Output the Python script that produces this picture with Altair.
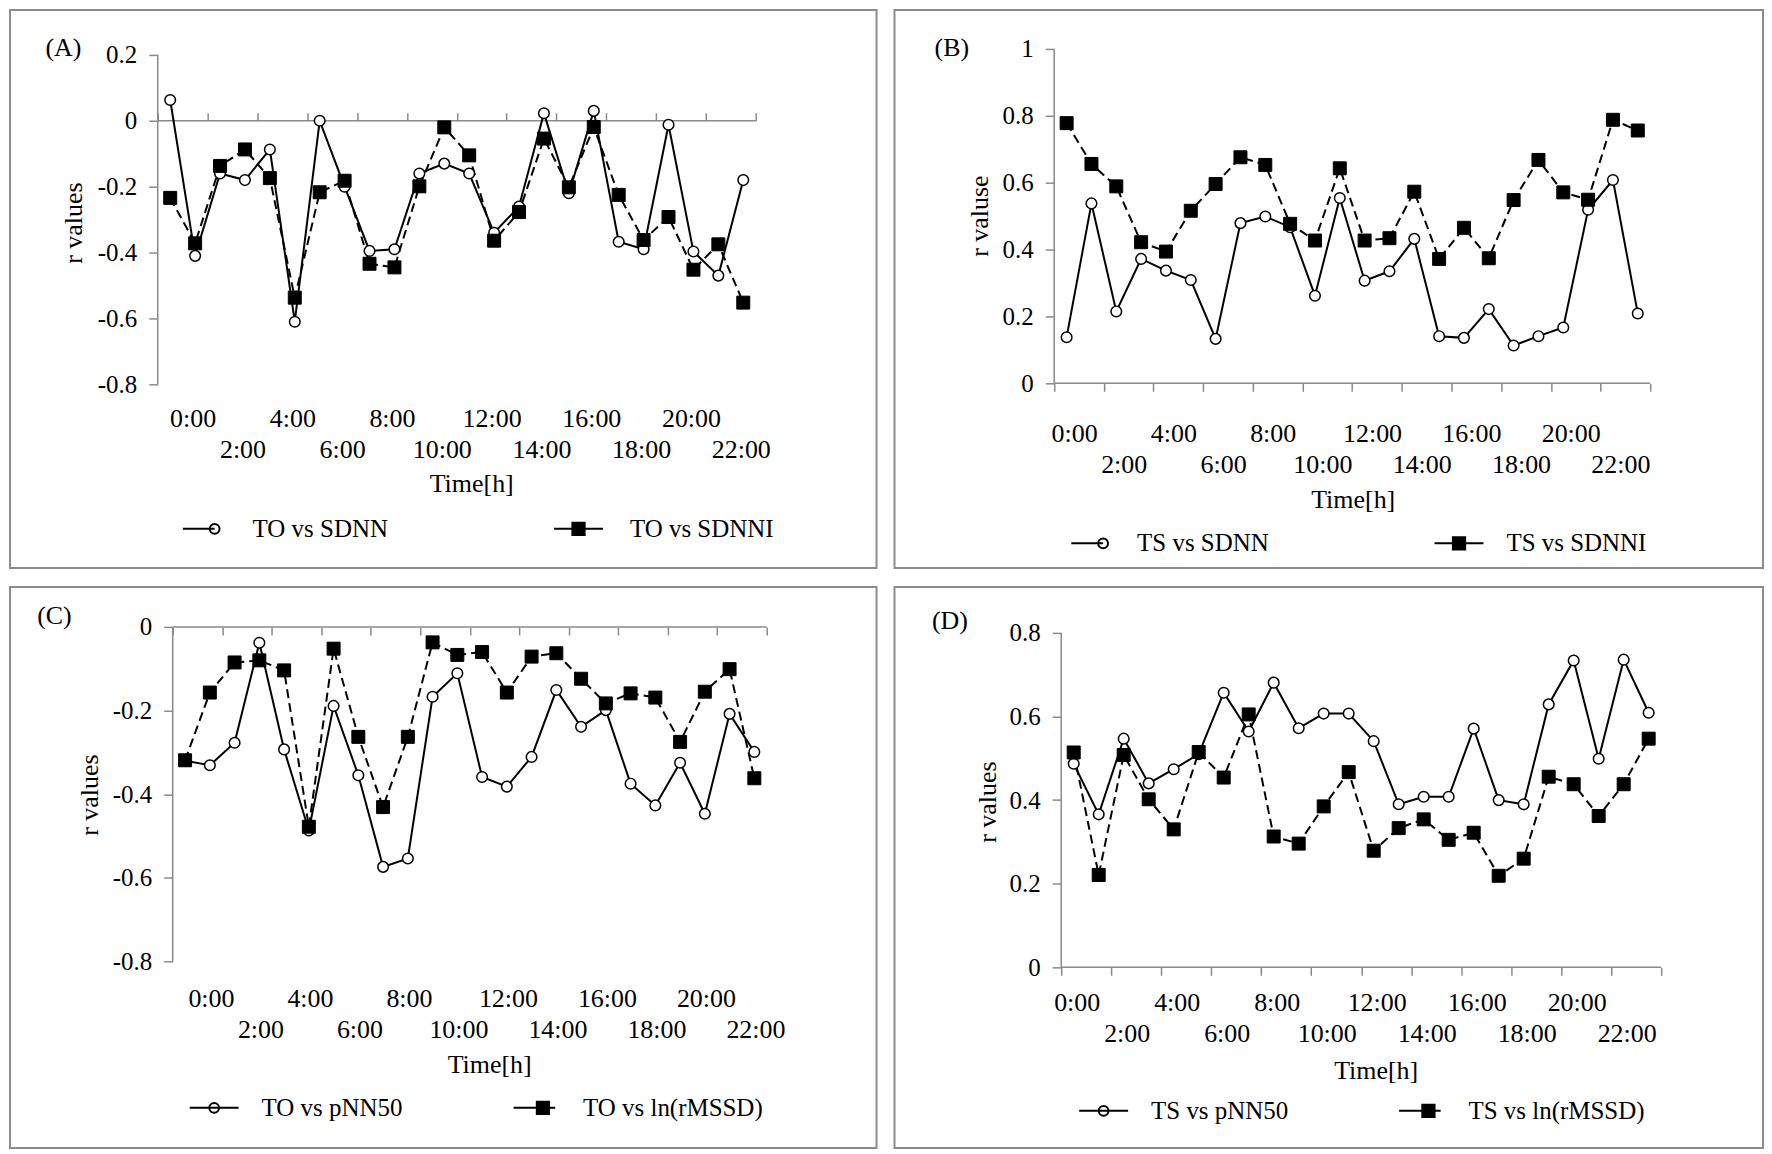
import altair as alt
import pandas as pd

# ---------------- data ----------------
HOURS = list(range(24))                 # hourly correlation points 0:00 .. 23:00
TICK_POS = list(range(0, 25, 2))        # category-axis tick marks (every 2 categories)
LABEL_POS = list(range(1, 24, 2))       # category labels 0:00, 2:00, ... 22:00

A_NAMES = ["TO vs SDNN", "TO vs SDNNI"]
A_SDNN = [0.063, -0.41, -0.16, -0.18, -0.087, -0.61, 0.0, -0.20, -0.395, -0.39, -0.16, -0.13,
          -0.16, -0.34, -0.26, 0.023, -0.22, 0.03, -0.367, -0.39, -0.012, -0.397, -0.47, -0.18]
A_SDNNI = [-0.234, -0.372, -0.137, -0.087, -0.174, -0.537, -0.217, -0.182, -0.434, -0.445, -0.199, -0.02,
           -0.105, -0.364, -0.277, -0.054, -0.202, -0.019, -0.225, -0.362, -0.292, -0.452, -0.375, -0.552]

B_NAMES = ["TS vs SDNN", "TS vs SDNNI"]
B_SDNN = [0.138, 0.538, 0.215, 0.372, 0.337, 0.309, 0.133, 0.479, 0.499, 0.467, 0.262, 0.554,
          0.307, 0.335, 0.432, 0.141, 0.136, 0.222, 0.113, 0.141, 0.167, 0.519, 0.608, 0.209]
B_SDNNI = [0.778, 0.656, 0.589, 0.422, 0.394, 0.516, 0.596, 0.676, 0.653, 0.477, 0.427, 0.643,
           0.427, 0.434, 0.573, 0.372, 0.465, 0.374, 0.548, 0.668, 0.571, 0.549, 0.788, 0.756]

C_NAMES = ["TO vs pNN50", "TO vs ln(rMSSD)"]
C_PNN50 = [-0.32, -0.331, -0.277, -0.038, -0.293, -0.487, -0.189, -0.355, -0.574, -0.554, -0.167, -0.111,
           -0.359, -0.382, -0.311, -0.151, -0.239, -0.199, -0.375, -0.427, -0.325, -0.447, -0.208, -0.299]
C_RMSSD = [-0.319, -0.157, -0.085, -0.080, -0.104, -0.478, -0.052, -0.263, -0.431, -0.263, -0.037, -0.067,
           -0.060, -0.157, -0.071, -0.063, -0.124, -0.183, -0.159, -0.169, -0.275, -0.155, -0.101, -0.362]

D_NAMES = ["TS vs pNN50", "TS vs ln(rMSSD)"]
D_PNN50 = [0.487, 0.366, 0.547, 0.44, 0.474, 0.51, 0.657, 0.564, 0.681, 0.572, 0.607, 0.607,
           0.541, 0.39, 0.408, 0.408, 0.571, 0.40, 0.39, 0.629, 0.734, 0.499, 0.736, 0.609]
D_RMSSD = [0.514, 0.221, 0.508, 0.402, 0.330, 0.515, 0.454, 0.605, 0.313, 0.296, 0.385, 0.467,
           0.279, 0.333, 0.354, 0.305, 0.322, 0.219, 0.260, 0.456, 0.438, 0.362, 0.438, 0.547]

A_YTICKS = [-0.8, -0.6, -0.4, -0.2, 0, 0.2]
B_YTICKS = [0, 0.2, 0.4, 0.6, 0.8, 1]
C_YTICKS = [-0.8, -0.6, -0.4, -0.2, 0]
D_YTICKS = [0, 0.2, 0.4, 0.6, 0.8]

# ---------------- styles ----------------
FONT = "Liberation Serif"
FS_TICK = 25
FS_XLAB = 26
FS_TITLE = 26
FS_LEG = 25
GRAY = "#8a8a8a"

# legend symbols: line segment + marker (custom paths)
P_CIRC_LEFT = "M-0.75,0L0.55,0M0.75,0A0.2,0.2,0,1,1,0.35,0A0.2,0.2,0,1,1,0.75,0Z"
P_CIRC_BOTH = "M-1,0L1,0M0.2,0A0.2,0.2,0,1,1,-0.2,0A0.2,0.2,0,1,1,0.2,0Z"
P_SQ_BOTH = "M-1,0L1,0M-0.25,-0.25L0.25,-0.25L0.25,0.25L-0.25,0.25Z"
P_SQ_LEFT = "M-0.9,0L0.8,0M0.05,-0.25L0.55,-0.25L0.55,0.25L0.05,0.25Z"

LABEL_EXPR = ("((datum.value - 1) / 2) % 2 == 0 ? (datum.value - 1) + ':00' "
              ": ['', (datum.value - 1) + ':00']")


def panel(letter, names, vals1, vals2, yticks, ytitle, g):
    W, H = g["W"], g["H"]
    x0, x1 = g["px_x"]
    yt, yb = g["px_y"]
    ymin, ymax = yticks[0], yticks[-1]
    ux = (x1 - x0) / 24.0
    uy = (yb - yt) / (ymax - ymin)
    xscale = alt.Scale(domain=[-x0 / ux, 24 + (W - x1) / ux], nice=False, zero=False)
    yscale = alt.Scale(domain=[ymin - (H - yb) / uy, ymax + yt / uy], nice=False, zero=False)
    y0 = yt + ymax * uy  # pixel row of r = 0

    df = pd.DataFrame({
        "hour": HOURS + HOURS,
        "series": [names[0]] * 24 + [names[1]] * 24,
        "r": vals1 + vals2,
    })
    df["x"] = df["hour"] + 0.5

    axes_df = pd.DataFrame({"x": [0, 0], "x2": [24, 0], "y": [0, ymin], "y2": [0, ymax]})
    tick_offset = -y0 if g["tick_orient"] == "top" else -(H - y0)

    tick_axis = alt.Axis(orient=g["tick_orient"], offset=tick_offset, values=TICK_POS,
                         labels=False, domain=False, grid=False, ticks=True,
                         tickSize=8, tickColor=GRAY, tickWidth=1.5,
                         title=letter, titleFont=FONT, titleFontSize=FS_TITLE,
                         titleFontWeight="normal", titleColor="black", titleAngle=0,
                         titleX=g["letter"][0], titleY=g["letter"][1] - y0,
                         titleAlign="center", titleBaseline="middle")
    y_axis = alt.Axis(orient="left", offset=-x0, values=yticks, labelExpr="'' + datum.value",
                      domain=False, grid=False, tickSize=9, tickColor=GRAY, tickWidth=1.5,
                      labelFont=FONT, labelFontSize=FS_TICK, labelColor="black", labelPadding=12,
                      labelBaseline="middle",
                      title=ytitle, titleFont=FONT, titleFontSize=FS_TITLE, titleFontWeight="normal",
                      titleColor="black", titleAngle=-90, titleX=g["ytitle"][0], titleY=g["ytitle"][1],
                      titleAlign="center", titleBaseline="middle")
    label_axis = alt.Axis(orient="bottom", offset=-(H - g["lab_y"]), values=LABEL_POS,
                          labelExpr=LABEL_EXPR, ticks=False, domain=False, grid=False,
                          labelFont=FONT, labelFontSize=FS_XLAB, labelColor="black",
                          labelBaseline="top", labelLineHeight=31, labelPadding=0,
                          labelOffset=g["lab_off"],
                          labelAlign="center", labelOverlap=False, labelFlush=False,
                          title="Time[h]", titleFont=FONT, titleFontSize=FS_TITLE,
                          titleFontWeight="normal", titleColor="black",
                          titleX=g["xtitle"][0], titleY=g["xtitle"][1],
                          titleAlign="center", titleBaseline="middle")

    rules = alt.Chart(axes_df).mark_rule(color=GRAY, strokeWidth=1.5).encode(
        x=alt.X("x:Q", scale=xscale, axis=tick_axis),
        x2="x2:Q",
        y=alt.Y("y:Q", scale=yscale, axis=y_axis),
        y2="y2:Q",
    )

    s1 = alt.Chart(df).transform_filter(alt.datum.series == names[0])
    s2 = alt.Chart(df).transform_filter(alt.datum.series == names[1])

    line1 = s1.mark_line(color="black", strokeWidth=2).encode(
        x=alt.X("x:Q", scale=xscale, axis=label_axis),
        y=alt.Y("r:Q", scale=yscale, axis=None),
    )
    line2 = s2.mark_line(color="black", strokeWidth=2, strokeDash=[9, 5]).encode(
        x=alt.X("x:Q", scale=xscale, axis=None),
        y=alt.Y("r:Q", scale=yscale, axis=None),
    )
    circles = s1.mark_point(
        shape="circle", filled=True, fill="white", stroke="black", strokeWidth=1.5,
        size=113, opacity=1
    ).encode(
        x=alt.X("x:Q", scale=xscale, axis=None),
        y=alt.Y("r:Q", scale=yscale, axis=None),
    )
    squares = s2.mark_point(
        shape="square", filled=True, fill="black", stroke="black", strokeWidth=1,
        size=169, opacity=1
    ).encode(
        x=alt.X("x:Q", scale=xscale, axis=None),
        y=alt.Y("r:Q", scale=yscale, axis=None),
    )

    leg = alt.Legend(title=None, orient="none", legendX=g["legend"][0], legendY=g["legend"][1],
                     direction="horizontal", columns=2, columnPadding=g["legend"][2],
                     labelFont=FONT, labelFontSize=FS_LEG, labelColor="black",
                     labelOffset=g["legend"][3],
                     symbolSize=2401, symbolStrokeWidth=2, symbolStrokeColor="black",
                     symbolOpacity=1, labelLimit=400)
    legend_df = pd.DataFrame({"series": names})
    legend_layer = alt.Chart(legend_df).mark_point(
        filled=True, strokeWidth=2, opacity=1, size=0
    ).encode(
        shape=alt.Shape("series:N", scale=alt.Scale(domain=names, range=g["paths"]), legend=leg),
        fill=alt.Fill("series:N", scale=alt.Scale(domain=names, range=["white", "black"]), legend=leg),
        stroke=alt.Stroke("series:N", scale=alt.Scale(domain=names, range=["black", "black"]), legend=leg),
    )

    return alt.layer(rules, line1, line2, circles, squares, legend_layer).resolve_axis(
        x="independent", y="independent"
    ).properties(width=W, height=H)


GEOM = {
    "A": dict(W=868, H=559, px_x=(148, 747), px_y=(45, 375), tick_orient="top",
              lab_y=396, lab_off=10, xtitle=(462, 78.6), ytitle=(-84, 213), letter=(53, 38),
              legend=(166, 494, 162, 26), paths=[P_CIRC_LEFT, P_SQ_BOTH]),
    "B": dict(W=870, H=559, px_x=(160, 757), px_y=(39, 374), tick_orient="bottom",
              lab_y=411.6, lab_off=-5, xtitle=(459, 78.6), ytitle=(-75, 206), letter=(57, 38),
              legend=(170, 508.5, 162, 22), paths=[P_CIRC_LEFT, P_SQ_BOTH]),
    "C": dict(W=868, H=562, px_x=(163, 758), px_y=(40, 375), tick_orient="bottom",
              lab_y=399.4, lab_off=13.5, xtitle=(480, 79), ytitle=(-83, 208), letter=(44, 29),
              legend=(179, 496, 106, 22), paths=[P_CIRC_BOTH, P_SQ_LEFT]),
    "D": dict(W=870, H=562, px_x=(167, 768), px_y=(46, 381), tick_orient="bottom",
              lab_y=403.4, lab_off=-9.5, xtitle=(482, 80.8), ytitle=(-74, 215), letter=(55, 34),
              legend=(184, 499, 106, 22), paths=[P_CIRC_BOTH, P_SQ_LEFT]),
}

pA = panel("(A)", A_NAMES, A_SDNN, A_SDNNI, A_YTICKS, "r values", GEOM["A"])
pB = panel("(B)", B_NAMES, B_SDNN, B_SDNNI, B_YTICKS, "r valuse", GEOM["B"])
pC = panel("(C)", C_NAMES, C_PNN50, C_RMSSD, C_YTICKS, "r values", GEOM["C"])
pD = panel("(D)", D_NAMES, D_PNN50, D_RMSSD, D_YTICKS, "r values", GEOM["D"])

RES = dict(x="independent", y="independent", shape="independent", fill="independent",
           stroke="independent")
LRES = dict(shape="independent", fill="independent", stroke="independent")

row1 = alt.hconcat(pA, pB, spacing=16).resolve_scale(**RES).resolve_legend(**LRES)
row2 = alt.hconcat(pC, pD, spacing=16).resolve_scale(**RES).resolve_legend(**LRES)

chart = alt.vconcat(row1, row2, spacing=17).resolve_scale(**RES).resolve_legend(**LRES).properties(
    padding={"left": 1, "top": 0, "right": 0, "bottom": 0},
    background="white",
).configure_view(stroke="#8c8c8c", strokeWidth=2)

chart.save("out.html", embed_options={"renderer": "svg", "actions": False})
